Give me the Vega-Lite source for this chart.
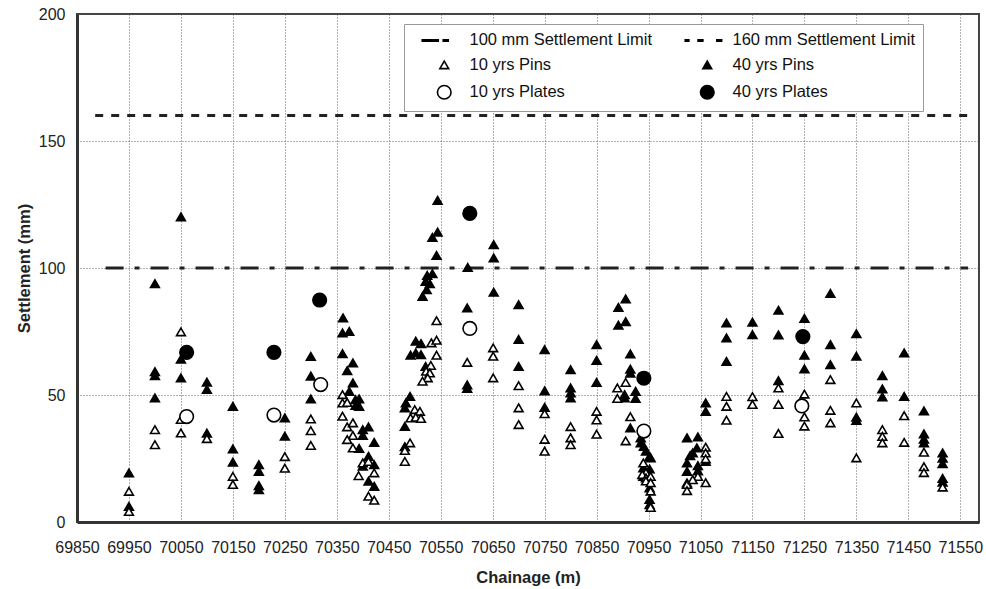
{
  "$schema": "https://vega.github.io/schema/vega-lite/v6.json",
  "width": 902,
  "height": 508,
  "autosize": {"type": "none"},
  "padding": {"left": 77, "top": 14, "right": 7, "bottom": 67},
  "config": {
    "font": "Liberation Sans",
    "view": {"stroke": "#444", "strokeWidth": 2},
    "axis": {
      "labelFont": "Liberation Sans", "labelFontSize": 16, "labelColor": "#222",
      "titleFont": "Liberation Sans", "titleFontSize": 16.5, "titleFontWeight": "bold", "titleColor": "#222",
      "domainColor": "#333", "domainWidth": 3, "ticks": false,
      "gridColor": "#555", "gridDash": [1, 2], "gridWidth": 1, "gridOpacity": 0.9
    }
  },
  "encoding": {
    "x": {
      "field": "c", "type": "quantitative",
      "scale": {"domain": [69850, 71586], "nice": false, "zero": false},
      "axis": {
        "title": "Chainage (m)",
        "values": [69850, 69950, 70050, 70150, 70250, 70350, 70450, 70550, 70650, 70750, 70850, 70950, 71050, 71150, 71250, 71350, 71450, 71550],
        "format": "d", "grid": true, "labelPadding": 17, "titlePadding": 14, "labelFlush": false, "labelOverlap": false
      }
    },
    "y": {
      "field": "s", "type": "quantitative",
      "scale": {"domain": [0, 200], "nice": false},
      "axis": {"title": "Settlement (mm)", "values": [0, 50, 100, 150, 200], "grid": true, "labelPadding": 12, "titlePadding": 6}
    }
  },
  "layer": [
    {
      "data": {"values": [{"c": 69905, "e": 71565, "s": 100}]},
      "mark": {"type": "rule", "strokeDash": [18, 11, 5, 11], "strokeWidth": 3, "color": "#222"},
      "encoding": {"x2": {"field": "e"}}
    },
    {
      "data": {"values": [{"c": 69885, "e": 71578, "s": 160}]},
      "mark": {"type": "rule", "strokeDash": [8, 8], "strokeWidth": 3, "color": "#222"},
      "encoding": {"x2": {"field": "e"}}
    },
    {
      "data": {"values": [
        {"c":69950,"s":19.2,"g":"40 yrs Pins"},{"c":69950,"s":6,"g":"40 yrs Pins"},
        {"c":70000,"s":93.7,"g":"40 yrs Pins"},{"c":70000,"s":59,"g":"40 yrs Pins"},{"c":70000,"s":57.5,"g":"40 yrs Pins"},{"c":70000,"s":48.7,"g":"40 yrs Pins"},
        {"c":70050,"s":120,"g":"40 yrs Pins"},{"c":70050,"s":64,"g":"40 yrs Pins"},{"c":70050,"s":56.6,"g":"40 yrs Pins"},
        {"c":70100,"s":54.9,"g":"40 yrs Pins"},{"c":70100,"s":52,"g":"40 yrs Pins"},{"c":70100,"s":34.8,"g":"40 yrs Pins"},
        {"c":70150,"s":45.4,"g":"40 yrs Pins"},{"c":70150,"s":28.6,"g":"40 yrs Pins"},{"c":70150,"s":23.4,"g":"40 yrs Pins"},
        {"c":70200,"s":22.4,"g":"40 yrs Pins"},{"c":70200,"s":19.8,"g":"40 yrs Pins"},{"c":70200,"s":14.2,"g":"40 yrs Pins"},{"c":70200,"s":12.6,"g":"40 yrs Pins"},
        {"c":70250,"s":40.8,"g":"40 yrs Pins"},{"c":70250,"s":33.6,"g":"40 yrs Pins"},
        {"c":70300,"s":65,"g":"40 yrs Pins"},{"c":70300,"s":57.3,"g":"40 yrs Pins"},{"c":70300,"s":48.3,"g":"40 yrs Pins"},
        {"c":70362,"s":80.2,"g":"40 yrs Pins"},{"c":70361,"s":74.3,"g":"40 yrs Pins"},{"c":70374,"s":74.9,"g":"40 yrs Pins"},{"c":70361,"s":66.1,"g":"40 yrs Pins"},{"c":70381,"s":62.5,"g":"40 yrs Pins"},{"c":70370,"s":59.4,"g":"40 yrs Pins"},{"c":70381,"s":54.6,"g":"40 yrs Pins"},{"c":70374,"s":51.3,"g":"40 yrs Pins"},{"c":70386,"s":48,"g":"40 yrs Pins"},{"c":70393,"s":48.3,"g":"40 yrs Pins"},{"c":70386,"s":45.7,"g":"40 yrs Pins"},{"c":70393,"s":45.4,"g":"40 yrs Pins"},{"c":70400,"s":36.2,"g":"40 yrs Pins"},{"c":70411,"s":37.3,"g":"40 yrs Pins"},{"c":70400,"s":33.9,"g":"40 yrs Pins"},{"c":70422,"s":31.2,"g":"40 yrs Pins"},{"c":70393,"s":28.8,"g":"40 yrs Pins"},{"c":70411,"s":25.7,"g":"40 yrs Pins"},{"c":70400,"s":21.8,"g":"40 yrs Pins"},{"c":70422,"s":22.4,"g":"40 yrs Pins"},{"c":70411,"s":15.9,"g":"40 yrs Pins"},{"c":70422,"s":13.9,"g":"40 yrs Pins"},
        {"c":70544,"s":126.5,"g":"40 yrs Pins"},{"c":70544,"s":114,"g":"40 yrs Pins"},{"c":70534,"s":111.9,"g":"40 yrs Pins"},{"c":70542,"s":104.8,"g":"40 yrs Pins"},{"c":70524,"s":96.9,"g":"40 yrs Pins"},{"c":70534,"s":97.6,"g":"40 yrs Pins"},{"c":70521,"s":94.6,"g":"40 yrs Pins"},{"c":70529,"s":93.7,"g":"40 yrs Pins"},{"c":70523,"s":91.3,"g":"40 yrs Pins"},{"c":70515,"s":88.7,"g":"40 yrs Pins"},{"c":70502,"s":71,"g":"40 yrs Pins"},{"c":70512,"s":70.1,"g":"40 yrs Pins"},{"c":70492,"s":65.5,"g":"40 yrs Pins"},{"c":70502,"s":66.4,"g":"40 yrs Pins"},{"c":70512,"s":65.7,"g":"40 yrs Pins"},{"c":70521,"s":61.1,"g":"40 yrs Pins"},{"c":70491,"s":49.3,"g":"40 yrs Pins"},{"c":70483,"s":46.7,"g":"40 yrs Pins"},{"c":70481,"s":44.8,"g":"40 yrs Pins"},{"c":70481,"s":37.5,"g":"40 yrs Pins"},{"c":70481,"s":29.5,"g":"40 yrs Pins"},
        {"c":70602,"s":100.1,"g":"40 yrs Pins"},{"c":70601,"s":84.1,"g":"40 yrs Pins"},{"c":70601,"s":52.4,"g":"40 yrs Pins"},{"c":70601,"s":53.8,"g":"40 yrs Pins"},
        {"c":70652,"s":109,"g":"40 yrs Pins"},{"c":70652,"s":103.8,"g":"40 yrs Pins"},{"c":70652,"s":90.3,"g":"40 yrs Pins"},
        {"c":70700,"s":85.4,"g":"40 yrs Pins"},{"c":70700,"s":71.7,"g":"40 yrs Pins"},{"c":70700,"s":61.1,"g":"40 yrs Pins"},
        {"c":70750,"s":67.7,"g":"40 yrs Pins"},{"c":70750,"s":51.5,"g":"40 yrs Pins"},{"c":70750,"s":45,"g":"40 yrs Pins"},
        {"c":70800,"s":59.8,"g":"40 yrs Pins"},{"c":70800,"s":52.6,"g":"40 yrs Pins"},{"c":70800,"s":50.7,"g":"40 yrs Pins"},{"c":70800,"s":48.7,"g":"40 yrs Pins"},
        {"c":70850,"s":69.7,"g":"40 yrs Pins"},{"c":70850,"s":63.5,"g":"40 yrs Pins"},{"c":70850,"s":54.8,"g":"40 yrs Pins"},
        {"c":70892,"s":84.3,"g":"40 yrs Pins"},{"c":70906,"s":87.7,"g":"40 yrs Pins"},{"c":70892,"s":77.3,"g":"40 yrs Pins"},{"c":70906,"s":78.7,"g":"40 yrs Pins"},{"c":70915,"s":66,"g":"40 yrs Pins"},{"c":70915,"s":60,"g":"40 yrs Pins"},{"c":70915,"s":58.4,"g":"40 yrs Pins"},{"c":70904,"s":50,"g":"40 yrs Pins"},{"c":70904,"s":48.7,"g":"40 yrs Pins"},{"c":70925,"s":51.3,"g":"40 yrs Pins"},{"c":70925,"s":48.5,"g":"40 yrs Pins"},{"c":70915,"s":36.9,"g":"40 yrs Pins"},{"c":70935,"s":33,"g":"40 yrs Pins"},{"c":70935,"s":31,"g":"40 yrs Pins"},{"c":70941,"s":29.6,"g":"40 yrs Pins"},{"c":70945,"s":27.7,"g":"40 yrs Pins"},{"c":70952,"s":25.7,"g":"40 yrs Pins"},{"c":70954,"s":25.1,"g":"40 yrs Pins"},{"c":70940,"s":21.1,"g":"40 yrs Pins"},{"c":70952,"s":20.7,"g":"40 yrs Pins"},{"c":70940,"s":17.8,"g":"40 yrs Pins"},{"c":70952,"s":13.3,"g":"40 yrs Pins"},{"c":70952,"s":8.7,"g":"40 yrs Pins"},{"c":70952,"s":6.7,"g":"40 yrs Pins"},
        {"c":71024,"s":33,"g":"40 yrs Pins"},{"c":71045,"s":33.3,"g":"40 yrs Pins"},{"c":71035,"s":27,"g":"40 yrs Pins"},{"c":71043,"s":29,"g":"40 yrs Pins"},{"c":71030,"s":26,"g":"40 yrs Pins"},{"c":71024,"s":23.1,"g":"40 yrs Pins"},{"c":71024,"s":19.8,"g":"40 yrs Pins"},{"c":71045,"s":22,"g":"40 yrs Pins"},{"c":71045,"s":20,"g":"40 yrs Pins"},{"c":71024,"s":15.2,"g":"40 yrs Pins"},{"c":71060,"s":46.7,"g":"40 yrs Pins"},{"c":71060,"s":43.4,"g":"40 yrs Pins"},{"c":71060,"s":23.7,"g":"40 yrs Pins"},
        {"c":71100,"s":78.2,"g":"40 yrs Pins"},{"c":71100,"s":72.3,"g":"40 yrs Pins"},{"c":71100,"s":63.1,"g":"40 yrs Pins"},
        {"c":71150,"s":78.5,"g":"40 yrs Pins"},{"c":71150,"s":73.6,"g":"40 yrs Pins"},
        {"c":71200,"s":83.2,"g":"40 yrs Pins"},{"c":71200,"s":73.5,"g":"40 yrs Pins"},{"c":71200,"s":55.5,"g":"40 yrs Pins"},
        {"c":71250,"s":80,"g":"40 yrs Pins"},{"c":71250,"s":65.5,"g":"40 yrs Pins"},{"c":71250,"s":60.1,"g":"40 yrs Pins"},
        {"c":71300,"s":89.8,"g":"40 yrs Pins"},{"c":71300,"s":69.7,"g":"40 yrs Pins"},{"c":71300,"s":61.8,"g":"40 yrs Pins"},
        {"c":71350,"s":74,"g":"40 yrs Pins"},{"c":71350,"s":65.1,"g":"40 yrs Pins"},{"c":71350,"s":41.1,"g":"40 yrs Pins"},{"c":71350,"s":39.8,"g":"40 yrs Pins"},
        {"c":71400,"s":57.5,"g":"40 yrs Pins"},{"c":71400,"s":52.2,"g":"40 yrs Pins"},{"c":71400,"s":49.1,"g":"40 yrs Pins"},
        {"c":71442,"s":66.4,"g":"40 yrs Pins"},{"c":71442,"s":49.3,"g":"40 yrs Pins"},
        {"c":71480,"s":43.6,"g":"40 yrs Pins"},{"c":71480,"s":34.5,"g":"40 yrs Pins"},{"c":71480,"s":32.5,"g":"40 yrs Pins"},{"c":71480,"s":31,"g":"40 yrs Pins"},
        {"c":71516,"s":27,"g":"40 yrs Pins"},{"c":71516,"s":25,"g":"40 yrs Pins"},{"c":71516,"s":22.8,"g":"40 yrs Pins"},{"c":71516,"s":17,"g":"40 yrs Pins"},{"c":71516,"s":15.5,"g":"40 yrs Pins"},
        {"c":69950,"s":11.9,"g":"10 yrs Pins"},{"c":69950,"s":4,"g":"10 yrs Pins"},
        {"c":70000,"s":36.2,"g":"10 yrs Pins"},{"c":70000,"s":30.3,"g":"10 yrs Pins"},
        {"c":70050,"s":74.7,"g":"10 yrs Pins"},{"c":70050,"s":40.2,"g":"10 yrs Pins"},{"c":70050,"s":34.9,"g":"10 yrs Pins"},
        {"c":70100,"s":32.7,"g":"10 yrs Pins"},
        {"c":70150,"s":17.8,"g":"10 yrs Pins"},{"c":70150,"s":14.6,"g":"10 yrs Pins"},
        {"c":70250,"s":25.6,"g":"10 yrs Pins"},{"c":70250,"s":21,"g":"10 yrs Pins"},
        {"c":70300,"s":40.4,"g":"10 yrs Pins"},{"c":70300,"s":35.8,"g":"10 yrs Pins"},{"c":70300,"s":30,"g":"10 yrs Pins"},
        {"c":70361,"s":50,"g":"10 yrs Pins"},{"c":70361,"s":46.7,"g":"10 yrs Pins"},{"c":70370,"s":46.9,"g":"10 yrs Pins"},{"c":70361,"s":41.5,"g":"10 yrs Pins"},{"c":70370,"s":37.3,"g":"10 yrs Pins"},{"c":70381,"s":38.9,"g":"10 yrs Pins"},{"c":70381,"s":33.9,"g":"10 yrs Pins"},{"c":70370,"s":32.3,"g":"10 yrs Pins"},{"c":70381,"s":29,"g":"10 yrs Pins"},{"c":70400,"s":23.1,"g":"10 yrs Pins"},{"c":70411,"s":23.7,"g":"10 yrs Pins"},{"c":70422,"s":19.2,"g":"10 yrs Pins"},{"c":70392,"s":18.1,"g":"10 yrs Pins"},{"c":70411,"s":10,"g":"10 yrs Pins"},{"c":70422,"s":8.4,"g":"10 yrs Pins"},
        {"c":70542,"s":79.1,"g":"10 yrs Pins"},{"c":70532,"s":70.4,"g":"10 yrs Pins"},{"c":70542,"s":71.4,"g":"10 yrs Pins"},{"c":70542,"s":65.5,"g":"10 yrs Pins"},{"c":70531,"s":61.5,"g":"10 yrs Pins"},{"c":70522,"s":59.2,"g":"10 yrs Pins"},{"c":70529,"s":58.5,"g":"10 yrs Pins"},{"c":70525,"s":56.6,"g":"10 yrs Pins"},{"c":70515,"s":55.3,"g":"10 yrs Pins"},{"c":70500,"s":44.1,"g":"10 yrs Pins"},{"c":70510,"s":43.4,"g":"10 yrs Pins"},{"c":70492,"s":40.8,"g":"10 yrs Pins"},{"c":70502,"s":41.1,"g":"10 yrs Pins"},{"c":70512,"s":40.6,"g":"10 yrs Pins"},{"c":70491,"s":31,"g":"10 yrs Pins"},{"c":70481,"s":28,"g":"10 yrs Pins"},{"c":70481,"s":23.7,"g":"10 yrs Pins"},
        {"c":70601,"s":62.7,"g":"10 yrs Pins"},
        {"c":70651,"s":68.4,"g":"10 yrs Pins"},{"c":70651,"s":65.1,"g":"10 yrs Pins"},{"c":70651,"s":56.6,"g":"10 yrs Pins"},
        {"c":70700,"s":53.5,"g":"10 yrs Pins"},{"c":70700,"s":44.8,"g":"10 yrs Pins"},{"c":70700,"s":38.2,"g":"10 yrs Pins"},
        {"c":70750,"s":42.5,"g":"10 yrs Pins"},{"c":70750,"s":32.4,"g":"10 yrs Pins"},{"c":70750,"s":27.7,"g":"10 yrs Pins"},
        {"c":70800,"s":37.4,"g":"10 yrs Pins"},{"c":70800,"s":33,"g":"10 yrs Pins"},{"c":70800,"s":30.3,"g":"10 yrs Pins"},
        {"c":70850,"s":43.4,"g":"10 yrs Pins"},{"c":70850,"s":40,"g":"10 yrs Pins"},{"c":70850,"s":34.4,"g":"10 yrs Pins"},
        {"c":70906,"s":54.8,"g":"10 yrs Pins"},{"c":70890,"s":52.6,"g":"10 yrs Pins"},{"c":70890,"s":48.5,"g":"10 yrs Pins"},{"c":70915,"s":41.3,"g":"10 yrs Pins"},{"c":70906,"s":31.8,"g":"10 yrs Pins"},
        {"c":70940,"s":23.1,"g":"10 yrs Pins"},{"c":70945,"s":19.3,"g":"10 yrs Pins"},{"c":70938,"s":18.5,"g":"10 yrs Pins"},{"c":70945,"s":17.2,"g":"10 yrs Pins"},{"c":70954,"s":17.8,"g":"10 yrs Pins"},{"c":70945,"s":16,"g":"10 yrs Pins"},{"c":70954,"s":15.3,"g":"10 yrs Pins"},{"c":70954,"s":12,"g":"10 yrs Pins"},{"c":70954,"s":5.6,"g":"10 yrs Pins"},
        {"c":71060,"s":29.3,"g":"10 yrs Pins"},{"c":71060,"s":27,"g":"10 yrs Pins"},{"c":71060,"s":24.7,"g":"10 yrs Pins"},{"c":71045,"s":17.8,"g":"10 yrs Pins"},{"c":71060,"s":15.3,"g":"10 yrs Pins"},{"c":71024,"s":14.6,"g":"10 yrs Pins"},{"c":71024,"s":12.2,"g":"10 yrs Pins"},{"c":71035,"s":16.5,"g":"10 yrs Pins"},
        {"c":71100,"s":49.3,"g":"10 yrs Pins"},{"c":71100,"s":45.4,"g":"10 yrs Pins"},{"c":71100,"s":39.9,"g":"10 yrs Pins"},
        {"c":71150,"s":49.2,"g":"10 yrs Pins"},{"c":71150,"s":46.1,"g":"10 yrs Pins"},
        {"c":71200,"s":52.6,"g":"10 yrs Pins"},{"c":71200,"s":46.1,"g":"10 yrs Pins"},{"c":71200,"s":34.7,"g":"10 yrs Pins"},
        {"c":71250,"s":50.2,"g":"10 yrs Pins"},{"c":71250,"s":41.2,"g":"10 yrs Pins"},{"c":71250,"s":37.6,"g":"10 yrs Pins"},
        {"c":71300,"s":55.9,"g":"10 yrs Pins"},{"c":71300,"s":43.8,"g":"10 yrs Pins"},{"c":71300,"s":38.9,"g":"10 yrs Pins"},
        {"c":71350,"s":46.7,"g":"10 yrs Pins"},{"c":71350,"s":25.1,"g":"10 yrs Pins"},
        {"c":71400,"s":36.2,"g":"10 yrs Pins"},{"c":71400,"s":33.5,"g":"10 yrs Pins"},{"c":71400,"s":31,"g":"10 yrs Pins"},
        {"c":71442,"s":41.7,"g":"10 yrs Pins"},{"c":71442,"s":31.2,"g":"10 yrs Pins"},
        {"c":71480,"s":27.3,"g":"10 yrs Pins"},{"c":71480,"s":21.6,"g":"10 yrs Pins"},{"c":71480,"s":19.3,"g":"10 yrs Pins"},
        {"c":71516,"s":13.6,"g":"10 yrs Pins"},
        {"c":70061,"s":41.5,"g":"10 yrs Plates"},{"c":70229,"s":42.1,"g":"10 yrs Plates"},{"c":70319,"s":54.1,"g":"10 yrs Plates"},{"c":70606,"s":76.2,"g":"10 yrs Plates"},{"c":70941,"s":35.8,"g":"10 yrs Plates"},{"c":71245,"s":45.7,"g":"10 yrs Plates"},
        {"c":70061,"s":66.8,"g":"40 yrs Plates"},{"c":70229,"s":66.8,"g":"40 yrs Plates"},{"c":70317,"s":87.4,"g":"40 yrs Plates"},{"c":70606,"s":121.5,"g":"40 yrs Plates"},{"c":70941,"s":56.6,"g":"40 yrs Plates"},{"c":71247,"s":73,"g":"40 yrs Plates"}
      ]},
      "mark": {"type": "point", "filled": true, "opacity": 1, "stroke": "black", "strokeWidth": 1.6, "size": 64},
      "encoding": {
        "shape": {
          "field": "g", "type": "nominal",
          "scale": {
            "domain": ["100 mm Settlement Limit", "10 yrs Pins", "10 yrs Plates", "160 mm Settlement Limit", "40 yrs Pins", "40 yrs Plates"],
            "range": [
              "M -5.5 -0.175 H -1.5 V 0.175 H -5.5 Z M -0.25 -0.175 H 1 V 0.175 H -0.25 Z",
              "M 0 -1.05 L 1.1 0.85 L -1.1 0.85 Z",
              "M -1.7 0 A 1.7 1.7 0 1 1 1.7 0 A 1.7 1.7 0 1 1 -1.7 0 Z",
              "M -5.5 -0.175 H -4.6 V 0.175 H -5.5 Z M -2.3 -0.175 H -1.1 V 0.175 H -2.3 Z M 2.4 -0.175 H 3.6 V 0.175 H 2.4 Z",
              "M 0 -1.05 L 1.1 0.85 L -1.1 0.85 Z",
              "M -1.7 0 A 1.7 1.7 0 1 1 1.7 0 A 1.7 1.7 0 1 1 -1.7 0 Z"
            ]
          },
          "legend": {"title": null, "orient": "none", "legendX": 327, "legendY": 10, "columns": 2, "labelFont": "Liberation Sans", "labelFontSize": 16.5, "labelColor": "#111", "labelOffset": 17, "symbolOffset": 24, "labelLimit": 400, "rowPadding": 8, "columnPadding": 23, "padding": 8, "strokeColor": "#999", "fillColor": "white", "symbolStrokeColor": "black", "symbolStrokeWidth": 1.6, "symbolSize": 64}
        },
        "fill": {
          "field": "g", "type": "nominal",
          "scale": {
            "domain": ["100 mm Settlement Limit", "10 yrs Pins", "10 yrs Plates", "160 mm Settlement Limit", "40 yrs Pins", "40 yrs Plates"],
            "range": ["black", "white", "white", "black", "black", "black"]
          },
          "legend": {"title": null, "orient": "none", "legendX": 327, "legendY": 10, "columns": 2, "labelFont": "Liberation Sans", "labelFontSize": 16.5, "labelColor": "#111", "labelOffset": 17, "symbolOffset": 24, "labelLimit": 400, "rowPadding": 8, "columnPadding": 23, "padding": 8, "strokeColor": "#999", "fillColor": "white", "symbolStrokeColor": "black", "symbolStrokeWidth": 1.6, "symbolSize": 64}
        },
        "stroke": {
          "field": "g", "type": "nominal",
          "scale": {
            "domain": ["100 mm Settlement Limit", "10 yrs Pins", "10 yrs Plates", "160 mm Settlement Limit", "40 yrs Pins", "40 yrs Plates"],
            "range": ["black", "black", "black", "black", "black", "black"]
          },
          "legend": {"title": null, "orient": "none", "legendX": 327, "legendY": 10, "columns": 2, "labelFont": "Liberation Sans", "labelFontSize": 16.5, "labelColor": "#111", "labelOffset": 17, "symbolOffset": 24, "labelLimit": 400, "rowPadding": 8, "columnPadding": 23, "padding": 8, "strokeColor": "#999", "fillColor": "white", "symbolStrokeColor": "black", "symbolStrokeWidth": 1.6, "symbolSize": 64}
        }
      }
    }
  ]
}
